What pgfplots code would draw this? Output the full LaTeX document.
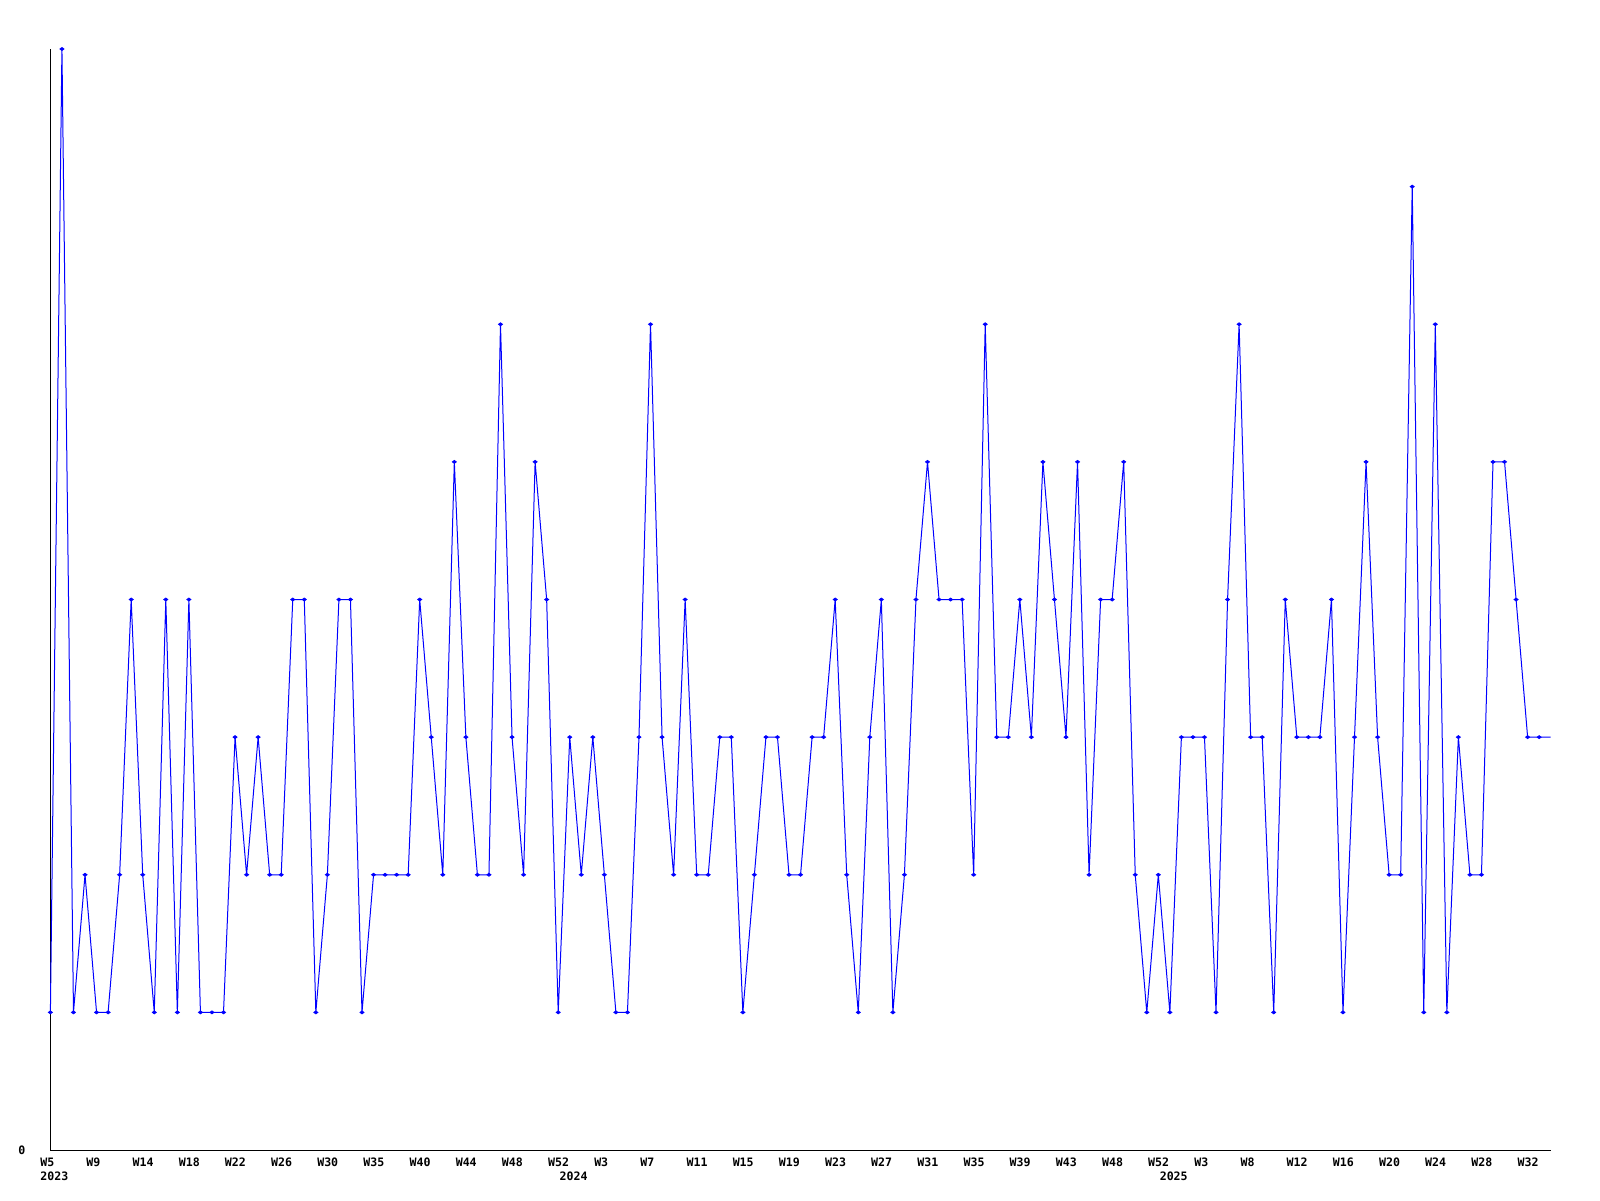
\documentclass[border=0pt]{standalone}
\usepackage{fontspec}
\usepackage{pgfplots}
\usepackage{pgfplotstable}
\pgfplotsset{compat=1.18}
\newfontfamily\pixfont{DejaVu Sans Mono}
\pgfplotstableread{
v
1
8
1
2
1
1
2
4
2
1
4
1
4
1
1
1
3
2
3
2
2
4
4
1
2
4
4
1
2
2
2
2
4
3
2
5
3
2
2
6
3
2
5
4
1
3
2
3
2
1
1
3
6
3
2
4
2
2
3
3
1
2
3
3
2
2
3
3
4
2
1
3
4
1
2
4
5
4
4
4
2
6
3
3
4
3
5
4
3
5
2
4
4
5
2
1
2
1
3
3
3
1
4
6
3
3
1
4
3
3
3
4
1
3
5
3
2
2
7
1
6
1
3
2
2
5
5
4
3
3
3
}\weekly
\begin{document}
\begin{tikzpicture}
\path[use as bounding box] (0,0) rectangle (800pt,600pt);
\begin{axis}[
  at={(25.2pt,25pt)}, anchor=south west,
  scale only axis, width=750.15pt, height=550.5pt,
  xmin=0, xmax=130, ymin=0, ymax=8,
  axis x line=bottom, axis y line=left,
  axis line style={-, black, line width=0.5pt},
  clip=false,
  major tick length=0pt,
  ytick={0},
  yticklabel style={anchor=east, inner sep=0pt, xshift=-12.3pt, font=\pixfont\bfseries\fontsize{5.8}{7}\selectfont},
  xtick={0,4,...,128},
  xticklabels={W5,W9,W14,W18,W22,W26,W30,W35,W40,W44,W48,W52,W3,W7,W11,W15,W19,W23,W27,W31,W35,W39,W43,W48,W52,W3,W8,W12,W16,W20,W24,W28,W32},
  xticklabel style={anchor=north west, inner sep=0pt, xshift=-5.25pt, yshift=-3.7pt, font=\pixfont\bfseries\fontsize{5.8}{7}\selectfont},
  /pgf/number format/assume math mode=true,
]
\addplot[color={rgb,255:red,0;green,0;blue,255}, line width=0.5pt, no marks] table[x expr=\coordindex, y=v] {\weekly};
\addplot[color={rgb,255:red,0;green,0;blue,255}, only marks, mark=diamond*, mark size=1pt, mark options={rotate=90}, restrict x to domain=0:129] table[x expr=\coordindex, y=v] {\weekly};
\node[anchor=north west, inner sep=0pt, font=\pixfont\bfseries\fontsize{5.8}{7}\selectfont] at ([xshift=-5.25pt, yshift=-10.7pt]axis cs:0,0) {2023};
\node[anchor=north west, inner sep=0pt, font=\pixfont\bfseries\fontsize{5.8}{7}\selectfont] at ([xshift=-5.25pt, yshift=-10.7pt]axis cs:45,0) {2024};
\node[anchor=north west, inner sep=0pt, font=\pixfont\bfseries\fontsize{5.8}{7}\selectfont] at ([xshift=-5.25pt, yshift=-10.7pt]axis cs:97,0) {2025};
\end{axis}
\end{tikzpicture}
\end{document}
